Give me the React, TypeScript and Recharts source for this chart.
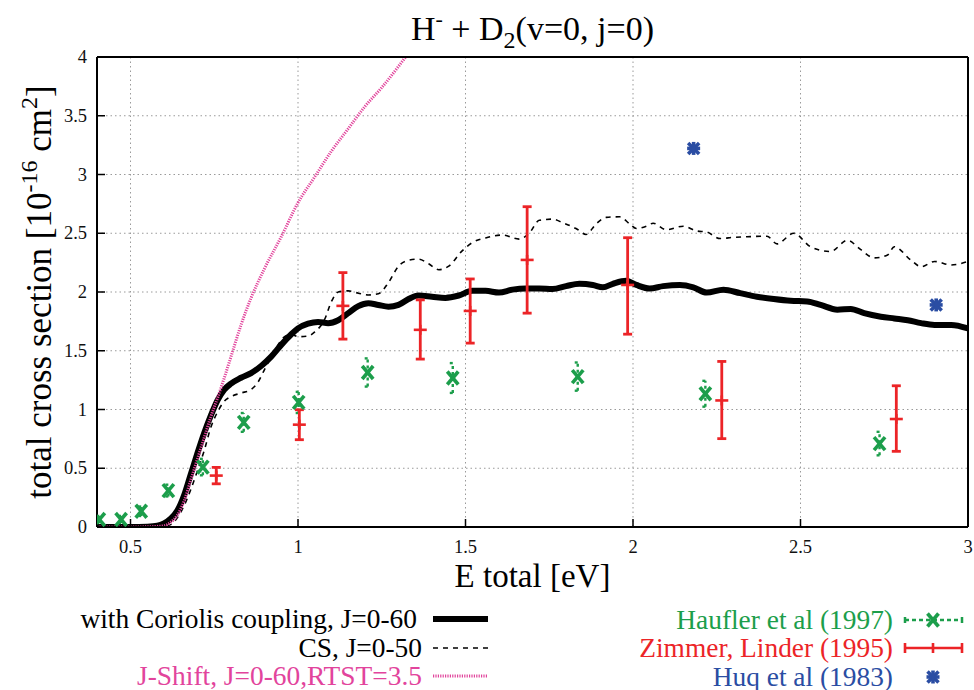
import React from 'react';
import {
  ComposedChart,
  Line,
  Scatter,
  XAxis,
  YAxis,
  CartesianGrid,
  ErrorBar,
  Legend,
  Label,
} from 'recharts';

const SERIF = '"Liberation Serif", "Times New Roman", serif';
const BLACK = '#000000';
const PINK = '#e2449c';
const GREEN = '#1c9e4b';
const RED = '#ec2427';
const BLUE = '#2a4da3';

const xTicks = [0.5, 1, 1.5, 2, 2.5, 3];
const yTicks = [0, 0.5, 1, 1.5, 2, 2.5, 3, 3.5, 4];

// with Coriolis coupling, J=0-60  [E, sigma]
const coriolis: [number, number][] = [
  [0.4, 0], [0.45, 0], [0.5, 0], [0.55, 0.003], [0.58, 0.01], [0.6, 0.03], [0.62, 0.07],
  [0.64, 0.14], [0.66, 0.27], [0.68, 0.45], [0.7, 0.63], [0.72, 0.8], [0.74, 0.95],
  [0.76, 1.08], [0.78, 1.17], [0.8, 1.22], [0.83, 1.27], [0.86, 1.31], [0.89, 1.37],
  [0.92, 1.45], [0.95, 1.55], [0.98, 1.64], [1.0, 1.69], [1.03, 1.73], [1.06, 1.745],
  [1.09, 1.735], [1.12, 1.76], [1.15, 1.82], [1.18, 1.88], [1.21, 1.905], [1.24, 1.89],
  [1.27, 1.875], [1.3, 1.89], [1.33, 1.94], [1.36, 1.97], [1.4, 1.96], [1.44, 1.95],
  [1.48, 1.97], [1.52, 2.01], [1.56, 2.01], [1.6, 1.995], [1.64, 2.02], [1.68, 2.03],
  [1.72, 2.03], [1.76, 2.025], [1.8, 2.05], [1.84, 2.07], [1.88, 2.06], [1.91, 2.04],
  [1.94, 2.07], [1.98, 2.095], [2.01, 2.06], [2.05, 2.03], [2.09, 2.05], [2.14, 2.06],
  [2.18, 2.04], [2.22, 1.995], [2.27, 2.02], [2.32, 1.99], [2.37, 1.96], [2.42, 1.94],
  [2.47, 1.925], [2.52, 1.92], [2.56, 1.89], [2.61, 1.85], [2.65, 1.855], [2.69, 1.82],
  [2.74, 1.79], [2.78, 1.775], [2.82, 1.76], [2.86, 1.735], [2.9, 1.72], [2.95, 1.72],
  [3.0, 1.69],
];

// CS, J=0-50
const cs: [number, number][] = [
  [0.4, 0], [0.5, 0], [0.58, 0.002], [0.6, 0.005], [0.62, 0.02], [0.64, 0.08], [0.66, 0.18],
  [0.68, 0.32], [0.7, 0.48], [0.72, 0.65], [0.74, 0.85], [0.76, 0.98], [0.78, 1.07],
  [0.8, 1.11], [0.83, 1.14], [0.86, 1.17], [0.88, 1.23], [0.9, 1.34], [0.93, 1.5],
  [0.96, 1.62], [0.98, 1.64], [1.0, 1.62], [1.03, 1.625], [1.05, 1.66], [1.08, 1.77],
  [1.1, 1.92], [1.12, 2.0], [1.15, 2.01], [1.18, 1.99], [1.21, 1.975], [1.24, 1.985],
  [1.27, 2.08], [1.3, 2.22], [1.33, 2.27], [1.36, 2.28], [1.39, 2.24], [1.42, 2.19],
  [1.45, 2.22], [1.49, 2.35], [1.52, 2.42], [1.56, 2.46], [1.61, 2.485], [1.66, 2.45],
  [1.69, 2.5], [1.72, 2.61], [1.76, 2.62], [1.79, 2.59], [1.83, 2.54], [1.86, 2.49],
  [1.89, 2.58], [1.92, 2.635], [1.96, 2.64], [1.99, 2.58], [2.01, 2.54], [2.04, 2.56],
  [2.06, 2.585], [2.1, 2.53], [2.15, 2.56], [2.19, 2.52], [2.22, 2.51], [2.26, 2.455],
  [2.3, 2.465], [2.34, 2.47], [2.4, 2.475], [2.43, 2.41], [2.48, 2.5], [2.53, 2.385],
  [2.59, 2.345], [2.64, 2.44], [2.68, 2.36], [2.72, 2.29], [2.76, 2.315], [2.78, 2.385],
  [2.83, 2.27], [2.86, 2.215], [2.9, 2.26], [2.95, 2.23], [3.0, 2.26],
];

// J-Shift, J=0-60, RTST=3.5
const jshift: [number, number][] = [
  [0.4, 0], [0.5, 0], [0.55, 0.002], [0.58, 0.005], [0.6, 0.01], [0.62, 0.04], [0.64, 0.1],
  [0.66, 0.22], [0.68, 0.4], [0.7, 0.58], [0.72, 0.76], [0.74, 0.94], [0.76, 1.1],
  [0.78, 1.27], [0.8, 1.45], [0.83, 1.72], [0.86, 1.95], [0.9, 2.2], [0.95, 2.47],
  [1.0, 2.76], [1.05, 2.98], [1.1, 3.2], [1.15, 3.39], [1.2, 3.58], [1.25, 3.74],
  [1.3, 3.92], [1.321, 4.0],
];

// Haufler et al (1997): [E, sigma, error]
const haufler: [number, number, number][] = [
  [0.407, 0.064, 0.03], [0.472, 0.064, 0.03], [0.532, 0.134, 0.04], [0.613, 0.31, 0.05],
  [0.716, 0.51, 0.07], [0.838, 0.89, 0.08], [1.002, 1.06, 0.09], [1.208, 1.315, 0.12],
  [1.462, 1.268, 0.127], [1.835, 1.28, 0.12], [2.216, 1.134, 0.11], [2.736, 0.71, 0.1],
];

// Zimmer, Linder (1995): [E, sigma, lower error, upper error]
const zimmer: [number, number, number, number][] = [
  [0.756, 0.4375, 0.07, 0.07], [1.004, 0.871, 0.128, 0.127], [1.134, 1.882, 0.283, 0.283],
  [1.365, 1.678, 0.249, 0.255], [1.514, 1.839, 0.274, 0.272], [1.684, 2.273, 0.453, 0.453],
  [1.984, 2.06, 0.419, 0.402], [2.265, 1.077, 0.325, 0.332], [2.786, 0.919, 0.275, 0.283],
];

// Huq et al (1983)
const huq: [number, number][] = [
  [2.181, 3.222], [2.905, 1.89],
];

const leftLegendLabels = ['with Coriolis coupling, J=0-60', 'CS, J=0-50', 'J-Shift, J=0-60,RTST=3.5'];
const rightLegendLabels = ['Haufler et al (1997)', 'Zimmer, Linder (1995)', 'Huq et al (1983)'];

const toXY = (arr: [number, number][]) => arr.map(([x, y]) => ({ x, y }));
const coriolisData = toXY(coriolis);
const csData = toXY(cs);
const jshiftData = toXY(jshift);
const hauflerData = haufler.map(([x, y, e]) => ({ x, y, err: e }));
const zimmerData = zimmer.map(([x, y, lo, hi]) => ({ x, y, err: [lo, hi] }));
const huqData = toXY(huq);

const XMark = ({ cx, cy }: any) => {
  if (cx == null || cy == null) return null;
  return (
    <g stroke={GREEN} strokeWidth={3.6}>
      <line x1={cx - 5.5} y1={cy - 6.5} x2={cx + 5.5} y2={cy + 6.5} />
      <line x1={cx - 5.5} y1={cy + 6.5} x2={cx + 5.5} y2={cy - 6.5} />
    </g>
  );
};

const PlusMark = ({ cx, cy }: any) => {
  if (cx == null || cy == null) return null;
  return (
    <g stroke={RED} strokeWidth={2.6}>
      <line x1={cx - 6.5} y1={cy} x2={cx + 6.5} y2={cy} />
      <line x1={cx} y1={cy - 5} x2={cx} y2={cy + 5} />
    </g>
  );
};

const StarMark = ({ cx, cy }: any) => {
  if (cx == null || cy == null) return null;
  return (
    <g stroke={BLUE} strokeWidth={3.6}>
      <line x1={cx - 5.5} y1={cy - 5.5} x2={cx + 5.5} y2={cy + 5.5} />
      <line x1={cx - 5.5} y1={cy + 5.5} x2={cx + 5.5} y2={cy - 5.5} />
      <line x1={cx - 6.5} y1={cy} x2={cx + 6.5} y2={cy} />
      <line x1={cx} y1={cy - 6.5} x2={cx} y2={cy + 6.5} />
    </g>
  );
};

const XTick = ({ x, y, payload }: any) => (
  <text x={x} y={y + 26} textAnchor="middle" fontFamily={SERIF} fontSize={18.5} fill="#111">
    {payload.value}
  </text>
);

const YTick = ({ x, y, payload }: any) => (
  <text x={x - 10} y={y + 6} textAnchor="end" fontFamily={SERIF} fontSize={18.5} fill="#111">
    {payload.value}
  </text>
);

const TitleLabel = ({ viewBox }: any) => {
  const cx = viewBox.x + viewBox.width / 2;
  return (
    <text x={cx} y={viewBox.y + viewBox.height - 17} textAnchor="middle" fontFamily={SERIF} fontSize={34} fill="#000">
      H<tspan dy={-14} fontSize={22}>-</tspan>
      <tspan dy={14}> + D</tspan>
      <tspan dy={8} fontSize={24}>2</tspan>
      <tspan dy={-8}>(v=0, j=0)</tspan>
    </text>
  );
};

const XLabel = ({ viewBox }: any) => {
  const cx = viewBox.x + viewBox.width / 2;
  return (
    <text x={cx} y={viewBox.y + 60} textAnchor="middle" fontFamily={SERIF} fontSize={33} fill="#000">
      E total [eV]
    </text>
  );
};

const YLabel = ({ viewBox }: any) => {
  const cy = viewBox.y + viewBox.height / 2;
  const x = 51;
  return (
    <text
      x={x}
      y={cy}
      transform={`rotate(-90, ${x}, ${cy})`}
      textAnchor="middle"
      fontFamily={SERIF}
      fontSize={35}
      fill="#000"
    >
      total cross section [10<tspan dy={-14} fontSize={24}>-16</tspan>
      <tspan dy={14}> cm</tspan>
      <tspan dy={-14} fontSize={24}>2</tspan>
      <tspan dy={14}>]</tspan>
    </text>
  );
};

const LegendContent = () => {
  const rowsL = [29, 58, 86];
  const rowsR = [30, 58, 87];
  const leftColors = [BLACK, BLACK, PINK];
  const rightColors = [GREEN, RED, BLUE];
  const lx1 = 433, lx2 = 488, rx1 = 905, rx2 = 962, rmid = 933;
  const leftRight = [417, 422, 422];
  return (
    <svg width={974} height={100} style={{ display: 'block', overflow: 'visible' }}>
      {leftLegendLabels.map((t, i) => (
        <text key={t} x={leftRight[i]} y={rowsL[i] + 9} textAnchor="end" fontFamily={SERIF} fontSize={27.4} fill={leftColors[i]}>
          {t}
        </text>
      ))}
      <line x1={lx1} y1={rowsL[0]} x2={lx2} y2={rowsL[0]} stroke={BLACK} strokeWidth={6} />
      <line x1={lx1} y1={rowsL[1]} x2={lx2} y2={rowsL[1]} stroke={BLACK} strokeWidth={1.6} strokeDasharray="5 5" />
      <line x1={lx1} y1={rowsL[2]} x2={lx2} y2={rowsL[2]} stroke={PINK} strokeWidth={3} strokeDasharray="1.2 1.2" />
      {rightLegendLabels.map((t, i) => (
        <text key={t} x={893} y={rowsR[i] + 9} textAnchor="end" fontFamily={SERIF} fontSize={27.4} fill={rightColors[i]}>
          {t}
        </text>
      ))}
      <g stroke={GREEN}>
        <line x1={rx1} y1={rowsR[0]} x2={rx2} y2={rowsR[0]} strokeWidth={2.5} strokeDasharray="4 3" />
        <line x1={rx1} y1={rowsR[0] - 3} x2={rx1} y2={rowsR[0] + 3} strokeWidth={2.5} />
        <line x1={rx2} y1={rowsR[0] - 3} x2={rx2} y2={rowsR[0] + 3} strokeWidth={2.5} />
      </g>
      <XMark cx={rmid} cy={rowsR[0]} />
      <g stroke={RED} strokeWidth={2.6}>
        <line x1={rx1} y1={rowsR[1]} x2={rx2} y2={rowsR[1]} />
        <line x1={rx1} y1={rowsR[1] - 5} x2={rx1} y2={rowsR[1] + 5} />
        <line x1={rx2} y1={rowsR[1] - 5} x2={rx2} y2={rowsR[1] + 5} />
        <line x1={rmid} y1={rowsR[1] - 5} x2={rmid} y2={rowsR[1] + 5} />
      </g>
      <StarMark cx={rmid} cy={rowsR[2]} />
    </svg>
  );
};

export default function App() {
  return (
    <div style={{ position: 'absolute', left: 0, top: 0, width: 974, height: 690, background: '#fff', overflow: 'hidden' }}>
      <ComposedChart width={974} height={690} margin={{ top: 0, right: 0, bottom: 0, left: 0 }}>
        <CartesianGrid stroke="#9a9a9a" strokeDasharray="1.5 3" strokeWidth={1} />
        <XAxis
          dataKey="x"
          type="number"
          domain={[0.4, 3]}
          ticks={xTicks}
          height={163}
          tickSize={-8}
          tickMargin={8}
          tick={<XTick />}
          axisLine={{ stroke: '#000', strokeWidth: 2 }}
          tickLine={{ stroke: '#000', strokeWidth: 1.5 }}
          allowDataOverflow
        >
          <Label content={<XLabel />} />
        </XAxis>
        <XAxis
          xAxisId="t"
          orientation="top"
          dataKey="x"
          type="number"
          domain={[0.4, 3]}
          ticks={xTicks}
          height={57}
          tickSize={-8}
          tick={false}
          axisLine={{ stroke: '#000', strokeWidth: 2 }}
          tickLine={{ stroke: '#000', strokeWidth: 1.5 }}
          allowDataOverflow
        >
          <Label content={<TitleLabel />} />
        </XAxis>
        <YAxis
          dataKey="y"
          type="number"
          domain={[0, 4]}
          ticks={yTicks}
          width={97}
          tickSize={-8}
          tickMargin={8}
          tick={<YTick />}
          axisLine={{ stroke: '#000', strokeWidth: 2 }}
          tickLine={{ stroke: '#000', strokeWidth: 1.5 }}
          allowDataOverflow
        >
          <Label content={<YLabel />} />
        </YAxis>
        <YAxis
          yAxisId="r"
          orientation="right"
          dataKey="y"
          type="number"
          domain={[0, 4]}
          ticks={yTicks}
          width={6}
          tickSize={-8}
          tick={false}
          axisLine={{ stroke: '#000', strokeWidth: 2 }}
          tickLine={{ stroke: '#000', strokeWidth: 1.5 }}
          allowDataOverflow
        />
        <Line
          data={coriolisData}
          dataKey="y"
          type="monotone"
          stroke={BLACK}
          strokeWidth={6}
          dot={false}
          activeDot={false}
          isAnimationActive={false}
        />
        <Line
          data={csData}
          dataKey="y"
          type="monotone"
          stroke={BLACK}
          strokeWidth={1.6}
          strokeDasharray="5 5"
          dot={false}
          activeDot={false}
          isAnimationActive={false}
        />
        <Line
          data={jshiftData}
          dataKey="y"
          type="monotone"
          stroke={PINK}
          strokeWidth={3}
          strokeDasharray="1.2 1.2"
          dot={false}
          activeDot={false}
          isAnimationActive={false}
        />
        <Scatter data={hauflerData} dataKey="y" shape={<XMark />} isAnimationActive={false}>
          <ErrorBar dataKey="err" direction="y" width={3} stroke={GREEN} strokeWidth={2.4} strokeDasharray="3 3" />
        </Scatter>
        <Scatter data={zimmerData} dataKey="y" shape={<PlusMark />} isAnimationActive={false}>
          <ErrorBar dataKey="err" direction="y" width={4.5} stroke={RED} strokeWidth={2.8} />
        </Scatter>
        <Scatter data={huqData} dataKey="y" shape={<StarMark />} isAnimationActive={false} />
        <Legend
          layout="horizontal"
          verticalAlign="middle"
          align="center"
          wrapperStyle={{ left: 0, top: 590, width: 974, height: 100 }}
          content={<LegendContent />}
        />
      </ComposedChart>
    </div>
  );
}
